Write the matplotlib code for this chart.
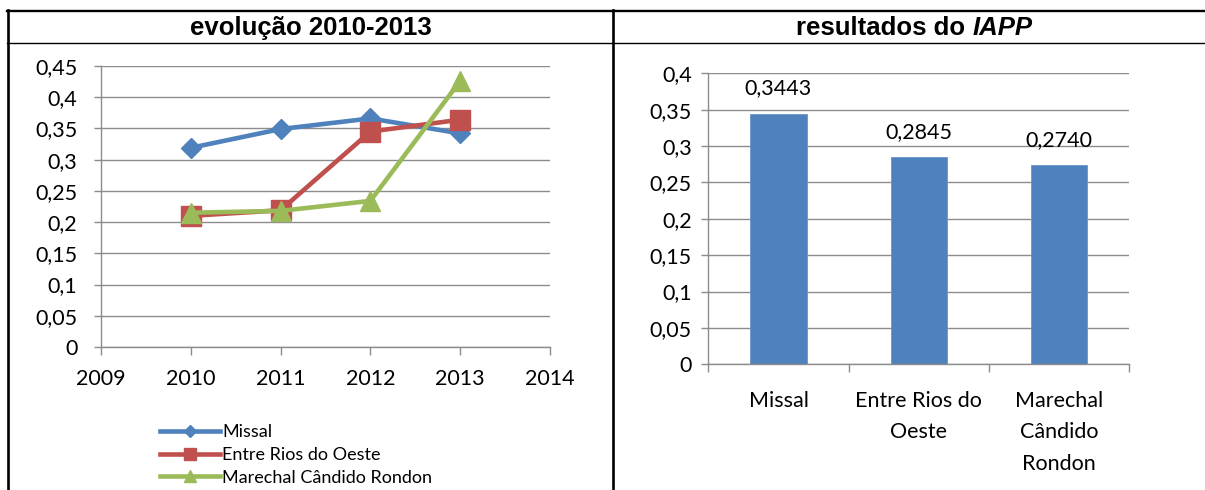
import matplotlib
matplotlib.use("Agg")
import matplotlib.pyplot as plt
from matplotlib.lines import Line2D
from matplotlib.ticker import FixedLocator, FuncFormatter

# ---------------- data ----------------
years = [2010, 2011, 2012, 2013]
missal = [0.319, 0.349, 0.366, 0.342]
entre_rios = [0.210, 0.219, 0.345, 0.364]
marechal = [0.215, 0.218, 0.234, 0.426]
series_names = ["Missal", "Entre Rios do Oeste", "Marechal Cândido Rondon"]

bar_categories = ["Missal", "Entre Rios do\nOeste", "Marechal\nCândido\nRondon"]
bar_values = [0.3443, 0.2845, 0.2740]
bar_labels = ["0,3443", "0,2845", "0,2740"]

left_title = "evolução 2010-2013"
right_title_plain = "resultados do "
right_title_italic = "IAPP"

# ---------------- style ----------------
W, H = 1205, 490
DPI = 100
FONT = ["Lato", "DejaVu Sans"]
HFONT = ["Liberation Sans", "DejaVu Sans"]
GRID = "#8C8C8C"
BLUE, RED, GREEN = "#4F81BD", "#C0504D", "#9BBB59"
HSIZE = 18.5

fig = plt.figure(figsize=(W / DPI, H / DPI), dpi=DPI)
fig.patch.set_facecolor("white")


def px_axes(x0, y0, x1, y1):
    return fig.add_axes([x0 / W, 1 - y1 / H, (x1 - x0) / W, (y1 - y0) / H])


def comma(v, pos=None):
    s = ("%.2f" % v).rstrip("0").rstrip(".")
    return s.replace(".", ",")


def style_axes(ax):
    for s in ["top", "right"]:
        ax.spines[s].set_visible(False)
    for s in ["left", "bottom"]:
        ax.spines[s].set_color(GRID)
        ax.spines[s].set_linewidth(1.0)
    ax.grid(axis="y", color=GRID, linewidth=1.0)
    ax.set_axisbelow(True)
    ax.tick_params(axis="both", colors=GRID, labelcolor="black", width=1.0)


# ---------------- table borders ----------------
def fline(x0, y0, x1, y1, lw):
    fig.add_artist(Line2D([x0 / W, x1 / W], [1 - y0 / H, 1 - y1 / H],
                          transform=fig.transFigure, color="black", linewidth=lw))

fline(7, 11, W, 11, 1.7)
fline(7, 43, W, 43, 1.0)
fline(8, 10, 8, H, 1.9)
fline(612.5, 10, 612.5, H, 1.9)

fig.text(311 / W, 1 - 28 / H, left_title, ha="center", va="center",
         fontsize=HSIZE, fontweight="bold", family=HFONT)
t1 = fig.text(0, 1 - 28 / H, right_title_plain, ha="left", va="center",
              fontsize=HSIZE, fontweight="bold", family=HFONT)
t2 = fig.text(0, 1 - 28 / H, right_title_italic, ha="left", va="center",
              fontsize=HSIZE, fontweight="bold", fontstyle="italic", family=HFONT)
fig.canvas.draw()
r = fig.canvas.get_renderer()
w1 = t1.get_window_extent(r).width
w2 = t2.get_window_extent(r).width
start = 914 - (w1 + w2) / 2
t1.set_x(start / W)
t2.set_x((start + w1) / W)

# ---------------- left: line chart ----------------
ax1 = px_axes(101, 66, 550, 347)
style_axes(ax1)
ax1.plot(years, missal, color=BLUE, lw=3.3, marker="D", ms=10, label=series_names[0],
         solid_joinstyle="round")
ax1.plot(years, entre_rios, color=RED, lw=3.3, marker="s", ms=14, label=series_names[1],
         solid_joinstyle="round")
ax1.plot(years, marechal, color=GREEN, lw=3.3, marker="^", ms=14.5, label=series_names[2],
         solid_joinstyle="round")
ax1.set_xlim(2009, 2014)
ax1.set_ylim(0, 0.45)
ax1.xaxis.set_major_locator(FixedLocator([2009, 2010, 2011, 2012, 2013, 2014]))
ax1.yaxis.set_major_locator(FixedLocator([i * 0.05 for i in range(10)]))
ax1.yaxis.set_major_formatter(FuncFormatter(comma))
ax1.tick_params(axis="y", length=5, pad=12, labelsize=15.5)
ax1.tick_params(axis="x", length=6, pad=10, labelsize=15.5)
for lab in ax1.get_xticklabels() + ax1.get_yticklabels():
    lab.set_family(FONT)

leg = ax1.legend(loc="upper left", bbox_to_anchor=(160 / W, 1 - 424 / H),
                 bbox_transform=fig.transFigure, frameon=False,
                 prop={"family": FONT, "size": 13}, handlelength=3.3,
                 handletextpad=0.15, labelspacing=0.38, borderpad=0,
                 borderaxespad=0, markerscale=0.6)

# ---------------- right: bar chart ----------------
ax2 = px_axes(708.3, 73.3, 1129.3, 364.3)
style_axes(ax2)
xpos = list(range(len(bar_values)))
bars = ax2.bar(xpos, bar_values, width=0.4, color=BLUE, edgecolor="#6A95C9", linewidth=0.6)
ax2.set_xlim(-0.5, len(bar_values) - 0.5)
ax2.set_ylim(0, 0.4)
ax2.yaxis.set_major_locator(FixedLocator([i * 0.05 for i in range(9)]))
ax2.yaxis.set_major_formatter(FuncFormatter(comma))
ax2.xaxis.set_major_locator(FixedLocator([i - 0.5 for i in range(len(bar_values) + 1)]))
ax2.xaxis.set_major_formatter(FuncFormatter(lambda v, p: ""))
ax2.xaxis.set_minor_locator(FixedLocator(xpos))
ax2.set_xticklabels(bar_categories, minor=True)
ax2.tick_params(axis="x", which="major", length=6)
ax2.tick_params(axis="x", which="minor", length=0, pad=19, labelsize=15.5)
ax2.tick_params(axis="y", length=5, pad=7, labelsize=15.5)
for lab in ax2.get_xticklabels(minor=True):
    lab.set_family(FONT)
    lab.set_linespacing(1.72)
    lab.set_verticalalignment("top")
for lab in ax2.get_yticklabels():
    lab.set_family(FONT)
for rect, txt in zip(bars, bar_labels):
    ax2.annotate(txt, (rect.get_x() + rect.get_width() / 2, rect.get_height()),
                 xytext=(0, 11), textcoords="offset points", ha="center", va="bottom",
                 fontsize=15.5, family=FONT, annotation_clip=False)

fig.savefig("out.png", dpi=DPI)
